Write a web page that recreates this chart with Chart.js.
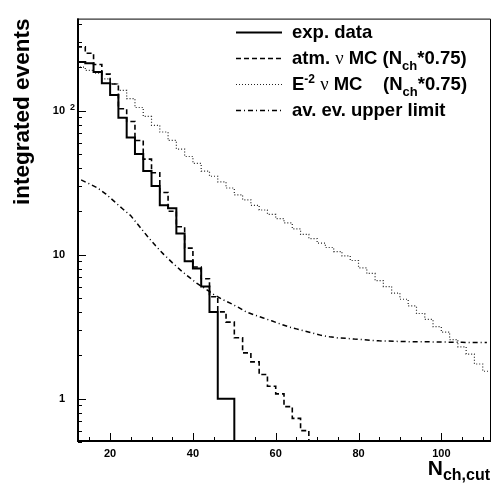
<!DOCTYPE html>
<html>
<head>
<meta charset="utf-8">
<script src="https://cdn.jsdelivr.net/npm/chart.js@4.4.1/dist/chart.umd.min.js"></script>
<style>
  html, body { margin: 0; padding: 0; background: #fff; }
  #wrap { width: 491px; height: 486px; }
</style>
</head>
<body>
<div id="wrap"><canvas id="nchChart" width="491" height="486"></canvas></div>
<script>
// lower edges of the N_ch,cut bins (width 2)
const binWidth = 2;
const nchEdges = [12, 14, 16, 18, 20, 22, 24, 26, 28, 30, 32, 34, 36, 38, 40, 42, 44, 46, 48, 50,
                  52, 54, 56, 58, 60, 62, 64, 66, 68, 70, 72, 74, 76, 78, 80, 82, 84, 86, 88, 90,
                  92, 94, 96, 98, 100, 102, 104, 106, 108, 110];

// integrated events per bin
const expData = [217, 213, 185, 155, 128, 89, 65, 50, 38, 30, 22, 21, 14, 9, 8, 6, 4, 1, 1];
const atmMC = [277, 250, 209, 179, 153, 103, 84, 62, 46, 37, 27, 20, 15.6, 11.1, 8.2, 6.8, 5.1, 4.0, 3.4, 2.65,
               2.08, 1.8, 1.47, 1.22, 1.08, 0.88, 0.73, 0.6, 0.51, 0.42];
const e2MC = [200, 190, 182, 166, 153, 138, 121, 105, 91, 79, 71, 62, 54, 48, 43, 38, 35, 32, 29, 26,
              24, 22, 20.4, 19, 17.8, 16.6, 15.1, 13.8, 12.9, 12, 11.2, 10.5, 9.8, 9.1, 8.1, 7.4, 6.6, 6.0, 5.4, 4.9,
              4.4, 3.9, 3.55, 3.16, 2.9, 2.57, 2.29, 2.04, 1.74, 1.55];
const upperLimit = [33, 31, 29, 26.3, 23.4, 20.8, 18.6, 15.8, 13.4, 11.5, 10, 8.8, 7.8, 7.0, 6.3, 5.8, 5.3, 4.9, 4.6, 4.3,
                    3.98, 3.8, 3.63, 3.47, 3.31, 3.16, 3.05, 2.95, 2.85, 2.75, 2.69, 2.64, 2.62, 2.59, 2.57, 2.54, 2.52, 2.51, 2.5, 2.49,
                    2.48, 2.48, 2.48, 2.47, 2.47, 2.46, 2.46, 2.45, 2.45, 2.45];

const xTicks = [20, 40, 60, 80, 100];
const yTicks = [1, 10, 100];
const yMin = 0.5, yMax = 435;
const xMin = 12, xMax = 112;

const ROOT_FONT = "'Liberation Sans', Arial, Helvetica, sans-serif";
Chart.defaults.font.family = ROOT_FONT;
Chart.defaults.color = '#000';

// step histogram: one point per lower edge, closed at the last upper edge
function histPoints(values, closeY) {
    var pts = values.map((v, i) => ({ x: nchEdges[i], y: v }));
    var last = values.length - 1;
    pts.push({ x: nchEdges[last] + binWidth, y: values[last] });
    if (closeY !== undefined) pts.push({ x: nchEdges[last] + binWidth, y: closeY });
    return pts;
}
function centerPoints(values) {
    return values.map((v, i) => ({ x: nchEdges[i] + binWidth / 2, y: v }));
}

function drawRich(ctx, x, y, parts) {
    var cx = x;
    parts.forEach(p => {
        ctx.font = p.font;
        ctx.fillText(p.t, cx, y + (p.dy || 0));
        cx += ctx.measureText(p.t).width;
    });
    return cx;
}
function richWidth(ctx, parts) {
    var w = 0;
    parts.forEach(p => { ctx.font = p.font; w += ctx.measureText(p.t).width; });
    return w;
}

const B = (s) => `bold ${s}px ${ROOT_FONT}`;
const NU = "normal 18.5px 'Liberation Serif', 'DejaVu Serif', serif";
const legendRows = [
    [{ t: 'exp. data', font: B(18.5) }],
    [{ t: 'atm. ', font: B(18.5) }, { t: 'ν', font: NU }, { t: ' MC (N', font: B(18.5) },
     { t: 'ch', font: B(13), dy: 6 }, { t: '*0.75)', font: B(18.5) }],
    [{ t: 'E', font: B(18.5) }, { t: '-2', font: B(12), dy: -7 }, { t: ' ', font: B(18.5) }, { t: 'ν', font: NU },
     { t: ' MC    (N', font: B(18.5) }, { t: 'ch', font: B(13), dy: 6 }, { t: '*0.75)', font: B(18.5) }],
    [{ t: 'av. ev. upper limit', font: B(18.5) }]
];

const rootDecor = {
    id: 'rootDecor',
    afterDraw(chart) {
        const ctx = chart.ctx;
        const a = chart.chartArea;
        const xs = chart.scales.x, ys = chart.scales.y;
        ctx.save();
        // frame
        ctx.strokeStyle = '#000';
        ctx.lineWidth = 1;
        ctx.beginPath();
        ctx.moveTo(a.left, a.top + 0.5);
        ctx.lineTo(a.right - 0.5, a.top + 0.5);
        ctx.lineTo(a.right - 0.5, a.bottom);
        ctx.stroke();
        ctx.lineWidth = 2;
        ctx.beginPath();
        ctx.moveTo(a.left + 1, a.top);
        ctx.lineTo(a.left + 1, a.bottom - 1);
        ctx.lineTo(a.right, a.bottom - 1);
        ctx.stroke();

        // ticks pointing into the frame
        ctx.lineWidth = 1;
        ctx.beginPath();
        for (let v = 15; v < xMax; v += 5) {
            const px = Math.round(xs.getPixelForValue(v)) + 0.5;
            const len = xTicks.includes(v) ? 8 : 4;
            ctx.moveTo(px, a.bottom - 1);
            ctx.lineTo(px, a.bottom - 1 - len);
        }
        for (let dec = 0.1; dec <= 100; dec *= 10) {
            for (let m = 1; m <= 9; m++) {
                const v = m * dec;
                if (v < yMin - 1e-9 || v > yMax) continue;
                const py = Math.round(ys.getPixelForValue(v)) + 0.5;
                const len = m === 1 ? 8 : 4;
                ctx.moveTo(a.left + 1, py);
                ctx.lineTo(a.left + 1 + len, py);
            }
        }
        ctx.stroke();

        // exponent of the 10^2 tick label
        ctx.fillStyle = '#000';
        ctx.font = B(9);
        ctx.textBaseline = 'alphabetic';
        ctx.fillText('2', a.left - 7, ys.getPixelForValue(100) - 1);

        // legend (no box)
        chart.data.datasets.forEach((ds, i) => {
            const base = 38 + i * 26;
            ctx.strokeStyle = ds.borderColor;
            ctx.lineWidth = ds.borderWidth;
            ctx.setLineDash(ds.borderDash || []);
            ctx.beginPath();
            ctx.moveTo(236, base - 5.5);
            ctx.lineTo(282, base - 5.5);
            ctx.stroke();
            ctx.setLineDash([]);
            drawRich(ctx, 292, base, legendRows[i]);
        });

        // x axis title N_ch,cut
        const xTitle = [{ t: 'N', font: B(21) }, { t: 'ch,cut', font: B(16), dy: 5 }];
        drawRich(ctx, 490 - richWidth(ctx, xTitle), 475, xTitle);
        ctx.restore();
    }
};

new Chart(document.getElementById('nchChart'), {
    type: 'line',
    data: {
        datasets: [
            { label: 'exp. data', data: histPoints(expData, yMin * 0.5), stepped: 'before',
              borderColor: '#000', borderWidth: 2, pointRadius: 0, fill: false },
            { label: 'atm. nu MC', data: histPoints(atmMC), stepped: 'before',
              borderColor: '#000', borderWidth: 1.6, borderDash: [5, 3], pointRadius: 0, fill: false },
            { label: 'E-2 nu MC', data: histPoints(e2MC), stepped: 'before',
              borderColor: '#222', borderWidth: 1.2, borderDash: [1, 2], pointRadius: 0, fill: false },
            { label: 'av. ev. upper limit', data: centerPoints(upperLimit),
              borderColor: '#000', borderWidth: 1.5, borderDash: [5, 3, 1, 3], pointRadius: 0, tension: 0, fill: false }
        ]
    },
    options: {
        responsive: false,
        animation: false,
        events: [],
        layout: { padding: { left: 0, top: 5, right: 0, bottom: 0 } },
        plugins: { legend: { display: false }, tooltip: { enabled: false } },
        scales: {
            x: {
                type: 'linear', min: xMin, max: xMax,
                grid: { display: false, drawTicks: false },
                border: { display: false },
                afterBuildTicks: (s) => { s.ticks = xTicks.map(v => ({ value: v })); },
                afterFit: (s) => { s.height = 44; },
                ticks: { font: { size: 11, weight: 'bold' }, padding: 5, maxRotation: 0 }
            },
            y: {
                type: 'logarithmic', min: yMin, max: yMax,
                grid: { display: false, drawTicks: false },
                border: { display: false },
                afterBuildTicks: (s) => { s.ticks = yTicks.map(v => ({ value: v })); },
                afterFit: (s) => { s.width = 77; },
                ticks: {
                    font: { size: 11, weight: 'bold' }, padding: 12,
                    // 100 is written as 10 with a raised 2 (drawn in rootDecor)
                    callback: (v) => v === 100 ? '10' : String(v)
                },
                title: {
                    display: true, text: 'integrated events', align: 'end',
                    font: { size: 22.5, weight: 'bold' }, padding: { top: 9, bottom: 0 }
                }
            }
        }
    },
    plugins: [rootDecor]
});
</script>
</body>
</html>
